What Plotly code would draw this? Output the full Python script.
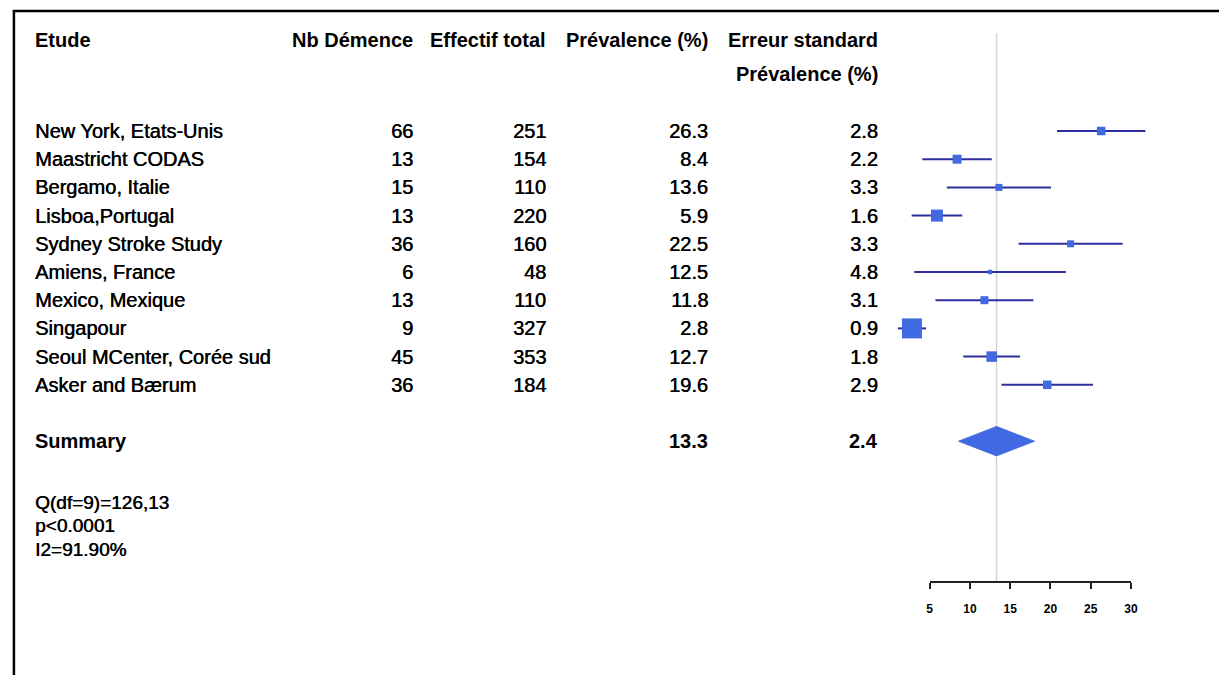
import plotly.graph_objects as go

# ---------------- data ----------------
studies = ["New York, Etats-Unis", "Maastricht CODAS", "Bergamo, Italie", "Lisboa,Portugal",
           "Sydney Stroke Study", "Amiens, France", "Mexico, Mexique", "Singapour",
           "Seoul MCenter, Corée sud", "Asker and Bærum"]
cases = [66, 13, 15, 13, 36, 6, 13, 9, 45, 36]
totals = [251, 154, 110, 220, 160, 48, 110, 327, 353, 184]
prevalence = [26.3, 8.4, 13.6, 5.9, 22.5, 12.5, 11.8, 2.8, 12.7, 19.6]
std_err = [2.8, 2.2, 3.3, 1.6, 3.3, 4.8, 3.1, 0.9, 1.8, 2.9]
box_sizes = [8.5, 9, 7, 12, 7, 4.5, 8, 20, 10.5, 8.5]
summary_prev = 13.3
summary_se = 2.4
stats_lines = ["Q(df=9)=126,13", "p<0.0001", "I2=91.90%"]
headers = ["Etude", "Nb Démence", "Effectif total", "Prévalence (%)", "Erreur standard"]
header2 = "Prévalence (%)"
tick_vals = [5, 10, 15, 20, 25, 30]

# ---------------- geometry ----------------
W, H = 1226, 675
ROW0, ROWH = 131.0, 28.2          # pixel of row 0, pixels per row
PX0, PXU = 893.7, 8.12            # pixel of x=0, pixels per unit
def row(p):
    return (p - ROW0) / ROWH
def px(x):
    return x / W

FONT = "Arial, Liberation Sans, sans-serif"
BLUE = "#4169E1"
NAVY = "#2E2E9E"

fig = go.Figure()

rows = list(range(len(studies)))
ci = [1.96 * s for s in std_err]

fig.add_trace(go.Scatter(
    x=prevalence, y=rows, mode="markers",
    marker=dict(symbol="square", size=box_sizes, color=BLUE, opacity=1, line=dict(width=0)),
    error_x=dict(type="data", array=ci, visible=True, color=NAVY, thickness=2, width=0),
    hoverinfo="skip", showlegend=False, cliponaxis=False))

# summary diamond
srow = len(studies) + 1
lo = summary_prev - 1.96 * summary_se
hi = summary_prev + 1.96 * summary_se
half = 0.52
fig.add_trace(go.Scatter(
    x=[lo, summary_prev, hi, summary_prev, lo],
    y=[srow, srow - half, srow, srow + half, srow],
    mode="lines", fill="toself", fillcolor=BLUE, line=dict(color=BLUE, width=1),
    hoverinfo="skip", showlegend=False))

# invisible trace to carry the bottom axis
fig.add_trace(go.Scatter(x=[tick_vals[0]], y=[0], xaxis="x2", yaxis="y", mode="markers",
                         marker=dict(opacity=0), hoverinfo="skip", showlegend=False))

# vertical line at summary
fig.add_shape(type="line", xref="x", yref="y", x0=summary_prev, x1=summary_prev,
              y0=row(33), y1=row(581), line=dict(color="#d4d4d4", width=1.5), layer="below")

# frame
fig.add_shape(type="line", xref="paper", yref="paper", x0=px(10), x1=1.0,
              y0=1 - 11 / H, y1=1 - 11 / H, line=dict(color="black", width=2.5))
fig.add_shape(type="line", xref="paper", yref="paper", x0=px(11), x1=px(11),
              y0=1 - 10 / H, y1=0, line=dict(color="black", width=2.5))

ann = []
col_right = [415, 549, 713, 884]
def add_text(text, x, y, anchor="right", size=20, bold=False):
    t = "<b>%s</b>" % text if bold else text
    ann.append(dict(text=t, x=px(x), xref="paper", y=y, yref="y", xanchor=anchor,
                    yanchor="middle", showarrow=False,
                    font=dict(family=FONT, size=size, color="black",
                              shadow="none" if bold else "0.5px 0 0 black")))

# headers
add_text(headers[0], 30, row(40), anchor="left", size=20, bold=True)
for h, xr in zip(headers[1:], col_right):
    add_text(h, xr, row(40), size=20, bold=True)
add_text(header2, col_right[3], row(73.5), size=20, bold=True)

# rows
for i in rows:
    add_text(studies[i], 30, i, anchor="left")
    add_text(str(cases[i]), col_right[0], i)
    add_text(str(totals[i]), col_right[1], i)
    add_text("%.1f" % prevalence[i], col_right[2], i)
    add_text("%.1f" % std_err[i], col_right[3], i)

# summary row
add_text("Summary", 30, srow, anchor="left", bold=True)
add_text("%.1f" % summary_prev, col_right[2], srow, bold=True)
add_text("%.1f" % summary_se, col_right[3], srow, bold=True)

# stats
for k, s in enumerate(stats_lines):
    add_text(s, 30, row(502 + 23.8 * k), anchor="left", size=19)

xr_left = (0 - PX0) / PXU
xr_right = (W - PX0) / PXU
fig.update_layout(
    width=W, height=H, autosize=False, margin=dict(l=0, r=0, t=0, b=0, pad=0),
    paper_bgcolor="white", plot_bgcolor="rgba(0,0,0,0)",
    xaxis=dict(range=[xr_left, xr_right], domain=[0, 1], visible=False, fixedrange=True),
    yaxis=dict(range=[row(H), row(0)], domain=[0, 1], visible=False, fixedrange=True),
    xaxis2=dict(range=[tick_vals[0], tick_vals[-1]],
                domain=[(PX0 + tick_vals[0] * PXU) / W, (PX0 + tick_vals[-1] * PXU) / W],
                anchor="free", position=1 - 582 / H, showline=True, linecolor="#222",
                linewidth=2, ticks="outside", ticklen=6, tickwidth=2, tickcolor="#222",
                tickvals=tick_vals, ticktext=[str(t) for t in tick_vals],
                showgrid=False, zeroline=False, ticklabelstandoff=10, fixedrange=True,
                tickfont=dict(family=FONT, size=12, color="black", weight="bold")),
    annotations=ann,
)

fig.write_html("out.html",
               config={"displayModeBar": False, "responsive": False},
               post_script="document.body.style.margin='0';document.body.style.padding='0';"
                           "document.body.style.overflow='hidden';")
